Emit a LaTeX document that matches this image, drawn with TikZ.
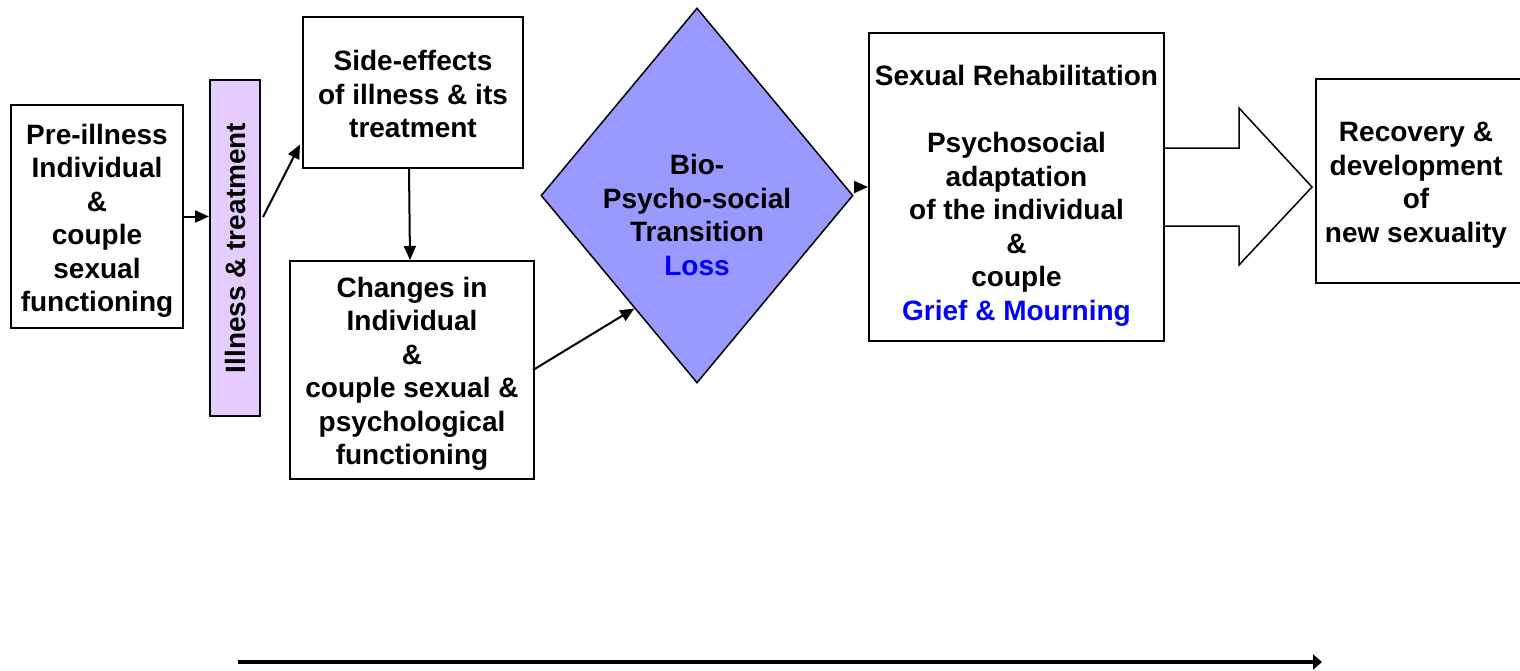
\documentclass[tikz,border=0pt]{standalone}
\usepackage{fontspec}
\setmainfont{Liberation Sans}
\usetikzlibrary{arrows.meta,shapes.geometric,calc}
\definecolor{lav}{HTML}{E5CCFF}
\definecolor{diafill}{HTML}{9999FF}
\definecolor{txtblue}{HTML}{0000FF}
\begin{document}
\begin{tikzpicture}[x=1pt,y=-1pt,
  lbl/.style={font=\bfseries\fontsize{28}{33.5}\selectfont, align=center, inner sep=0pt},
  box/.style={draw, line width=2pt, fill=white, inner sep=0pt},
  arr/.style={line width=2pt, -{Triangle[length=14pt,width=12pt]}}]
\clip (0,0) rectangle (1520,670);
% boxes
\node[box, minimum width=172pt, minimum height=223pt] (pre) at (97,216.5) {};
\node[lbl] at (97,221) {Pre-illness\\Individual\\\&\\couple\\sexual\\functioning};
\node[box, fill=lav, minimum width=50pt, minimum height=336pt] (bar) at (235,248) {};
\node[lbl, rotate=90] at (bar) {Illness \& treatment};
\node[box, minimum width=220pt, minimum height=151pt] (se) at (413,92.5) {};
\node[lbl] at (413,94) {Side-effects\\of illness \& its\\treatment};
\node[box, minimum width=244pt, minimum height=218pt] (ch) at (412,370) {};
\node[lbl] at (412,374) {Changes in\\Individual\\\&\\couple sexual \&\\psychological\\functioning};
\node[draw, line width=1.5pt, fill=diafill, diamond, inner sep=0pt, minimum width=312pt, minimum height=375pt] (dia) at (697,195.5) {};
\node[lbl] at (697,215) {Bio-\\Psycho-social\\Transition\\\textcolor{txtblue}{Loss}};
\node[box, minimum width=295pt, minimum height=308pt] (reh) at (1016.5,187) {};
\node[lbl] at (1016.5,196) {Sexual Rehabilitation\\[33.5pt]Psychosocial\\adaptation\\of the individual\\\&\\couple\\\textcolor{txtblue}{Grief \& Mourning}};
\node[box, minimum width=214pt, minimum height=204pt] (rec) at (1423,181) {};
\node[lbl] at (1416,185) {Recovery \&\\development\\of\\new sexuality};
% block arrow
\draw[line width=1.5pt, fill=white] ($(reh.east)+(0,-39)$) -- ++(74,0) -- ++(0,-40)
  -- ($(reh.east)+(147,0)$) -- ($(reh.east)+(74,78)$) -- ++(0,-39) -- ($(reh.east)+(0,39)$);
% connectors
\draw[arr] (pre.east) -- (pre.east -| bar.west);
\draw[arr] ($(bar.east)+(2,-31)$) -- ($(se.west)+(-2,52)$);
\draw[arr] ($(se.south)+(-4,0)$) -- ($(ch.north)+(-2,0)$);
\draw[arr] ($(ch.east)+(-2,0)$) -- ($(dia.west)!0.6!(dia.south)$);
\draw[arr] (reh.west -| dia.east) -- (reh.west);
% time arrow
\coordinate (t0) at (238,662);
\coordinate (t1) at (1322,662);
\draw[line width=3.5pt, -{Triangle[length=9pt,width=15pt]}] (t0) -- (t1);
\end{tikzpicture}
\end{document}
